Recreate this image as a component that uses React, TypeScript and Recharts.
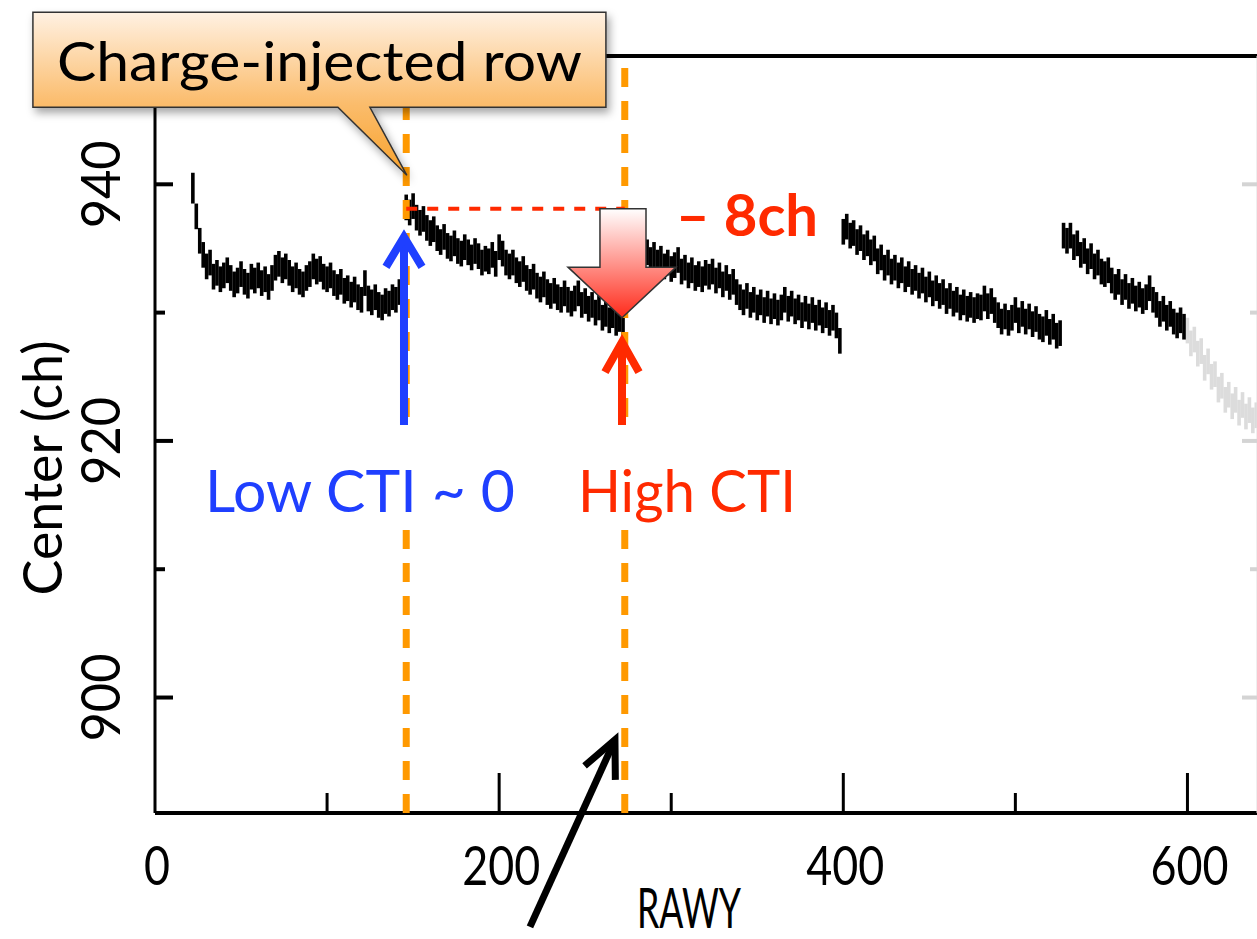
import React from 'react';
import {
  ComposedChart,
  Scatter,
  ErrorBar,
  XAxis,
  YAxis,
  ReferenceLine,
  ReferenceDot,
  ReferenceArea,
} from 'recharts';

// Line center per RAWY row (every other row), one block per charge-injection period
const rowStep = 2;
const centerErr = 1.0;
const firstRowErr = 1.2;

const block1Start = 22;
const block1 = [
  939.7, 937.5, 935.6, 934.5, 933.6, 933.9, 932.8, 933.1, 932.6, 932.9, 933.3, 932.7, 932.2, 932.5, 933.0, 932.4,
  932.1, 932.8, 932.5, 932.9, 932.3, 932.6, 932.0, 932.7, 933.5, 933.8, 933.3, 933.6, 933.1, 932.6, 932.9, 932.4,
  932.2, 932.7, 933.0, 933.6, 933.2, 933.4, 932.8, 932.6, 932.9, 932.3, 932.0, 932.4, 931.7, 931.9, 931.4, 931.8,
  931.2, 931.0, 932.3, 931.1, 930.8, 931.2, 930.6, 930.4, 930.9, 930.7, 931.2, 931.0, 931.6, 930.9,
];

const block2Start = 146;
const block2 = [
  938.2, 937.8, 938.3, 937.4, 937.0, 937.3, 936.6, 936.2, 936.5, 935.8, 935.5, 935.9, 935.2, 935.0, 935.4, 934.8,
  934.6, 935.1, 934.7, 934.3, 934.8, 934.4, 933.9, 934.2, 934.0, 934.5, 933.8, 935.1, 934.6, 933.9, 933.6, 933.9,
  933.3, 933.0, 933.4, 932.7, 932.4, 932.8, 932.1, 931.8, 932.2, 931.6, 931.3, 931.7, 931.2, 931.0, 931.5, 931.0,
  930.7, 931.1, 931.5, 930.6, 930.9, 930.3, 930.6, 930.0, 930.4, 929.6, 929.9, 929.4, 929.8, 929.2, 929.5, 929.1,
];

const block3Start = 274;
const block3 = [
  935.2, 934.8, 935.1, 934.6, 934.9, 934.4, 934.7, 934.1, 934.5, 933.9, 934.2, 933.6, 933.9, 933.4, 933.7, 934.1,
  933.2, 933.5, 932.9, 933.3, 932.7, 933.0, 932.6, 933.1, 932.8, 933.2, 932.5, 932.9, 932.2, 932.7, 932.0, 932.4,
  931.6, 931.2, 930.8, 931.3, 930.6, 931.0, 930.4, 930.8, 930.2, 930.7, 930.1, 930.5, 930.0, 930.4, 931.0, 930.3,
  930.7, 930.1, 930.4, 929.8, 930.3, 929.7, 930.2, 929.6, 930.0, 929.4, 929.8, 929.2, 929.6, 929.0, 927.8,
];

const block4Start = 400;
const block4 = [
  936.3, 936.7, 936.0, 936.2, 935.5, 935.8, 935.1, 935.4, 934.7, 935.0, 934.0, 934.3, 933.5, 933.9, 933.2, 933.5,
  932.9, 933.3, 932.6, 933.0, 932.4, 932.7, 932.1, 932.5, 931.8, 932.2, 931.5, 931.9, 931.3, 931.6, 930.9, 931.3,
  930.7, 931.0, 930.4, 930.8, 930.3, 930.6, 930.2, 930.5, 930.4, 931.1, 930.5, 930.9, 930.2, 929.8, 929.3, 929.7,
  929.2, 929.6, 930.2, 929.4, 929.9, 929.3, 929.7, 929.1, 929.5, 928.9, 928.7, 929.2, 928.5, 928.9, 928.2, 928.4,
];

const block5Start = 528;
const block5 = [
  936.0, 935.6, 936.0, 935.1, 935.4, 934.5, 934.8, 934.0, 934.4, 933.6, 933.9, 933.2, 933.0, 933.3, 932.5, 932.0,
  932.4, 931.6, 932.0, 931.3, 931.7, 931.1, 931.4, 930.9, 931.2, 931.9, 931.0, 930.6, 929.9, 930.3, 929.6, 929.9,
  929.3, 929.0, 929.4, 928.9,
];

// faded part beyond row 600
const fadedStart = 600;
const faded = [
  928.6, 927.6, 927.9, 926.8, 927.0, 925.7, 926.2, 925.0, 925.2, 924.0, 924.3, 923.2, 923.6, 922.7, 923.2, 922.2,
  922.8, 921.9, 922.4, 921.6, 922.0,
];

const injectedRows = [146, 273];
const dropFrom = 938.1;
const dropTo = 929.6;

const xTicks = [0, 100, 200, 300, 400, 500, 600];
const yTicks = [900, 910, 920, 930, 940];

const toPoints = (start: number, values: number[]) =>
  values.map((c, i) => ({
    rawy: start + i * rowStep,
    center: c,
    err: i === 0 && start === block1Start ? firstRowErr : centerErr,
  }));

const mainPoints = [
  ...toPoints(block1Start, block1),
  ...toPoints(block2Start, block2),
  ...toPoints(block3Start, block3),
  ...toPoints(block4Start, block4),
  ...toPoints(block5Start, block5),
];
const fadedPoints = toPoints(fadedStart, faded);

const FONT = 'Lato, "Noto Sans", sans-serif';
const CHART_W = 1280;
const CHART_H = 939;
const TOP = 56;
const X_AXIS_H = 126;
const PLOT_LEFT = 155;
const PLOT_RIGHT = 1258;
const PLOT_BOTTOM = CHART_H - X_AXIS_H;

const ORANGE = '#ff9900';
const RED = '#ff2a00';
const BLUE = '#1f3fff';

const XTick = (props: any) => {
  const { x, payload } = props;
  const v = payload.value as number;
  const major = v % 200 === 0;
  const s = String(v);
  return (
    <g>
      {v !== 0 && (
        <line x1={x} x2={x} y1={PLOT_BOTTOM} y2={PLOT_BOTTOM - (major ? 40 : 20)} stroke="#000" strokeWidth={3} />
      )}
      {major && (
        <text x={x + 2} y={885} textAnchor="middle" fontSize={55} fontFamily={FONT} fill="#000"
          textLength={26 * s.length} lengthAdjust="spacingAndGlyphs">
          {s}
        </text>
      )}
    </g>
  );
};

// left ticks with labels, plus the faded ticks of the right-hand frame
const YTick = (props: any) => {
  const { y, payload } = props;
  const v = payload.value as number;
  const major = v % 20 === 0;
  const s = String(v);
  return (
    <g>
      <line x1={PLOT_LEFT} x2={PLOT_LEFT + (major ? 18 : 10)} y1={y} y2={y} stroke="#000" strokeWidth={4} />
      <line x1={PLOT_RIGHT} x2={PLOT_RIGHT - (major ? 16 : 8)} y1={y} y2={y} stroke="#d4d4d4" strokeWidth={4} />
      {major && (
        <text x={120} y={y} transform={`rotate(-90, 120, ${y})`} textAnchor="middle" fontSize={55}
          fontFamily={FONT} fill="#000" textLength={88} lengthAdjust="spacingAndGlyphs">
          {s}
        </text>
      )}
    </g>
  );
};

const YTitle = () => {
  const cx = 62;
  const cy = 468;
  return (
    <text x={cx} y={cy} transform={`rotate(-90, ${cx}, ${cy})`} textAnchor="middle" fontSize={55}
      fontFamily={FONT} fill="#000" textLength={255} lengthAdjust="spacingAndGlyphs">
      Center (ch)
    </text>
  );
};

const XTitle = () => (
  <text x={689} y={928} textAnchor="middle" fontSize={56} fontFamily={FONT} fill="#000"
    textLength={104} lengthAdjust="spacingAndGlyphs">
    RAWY
  </text>
);

// speech-bubble callout, tip at the injected row
const Callout = ({ cx, cy }: any) => {
  const left = cx - 374;
  const right = cx + 199;
  const top = cy - 163;
  const bottom = cy - 68;
  const d = `M${left},${top} H${right} V${bottom} H${cx - 37} L${cx},${cy} L${cx - 69},${bottom} H${left} Z`;
  return (
    <g>
      <defs>
        <linearGradient id="calloutFill" x1="0" y1="0" x2="0" y2="1">
          <stop offset="0%" stopColor="#fff1e2" />
          <stop offset="55%" stopColor="#fbbd6e" />
          <stop offset="100%" stopColor="#f8a22c" />
        </linearGradient>
        <filter id="calloutShadow" x="-10%" y="-10%" width="120%" height="130%">
          <feDropShadow dx="3" dy="5" stdDeviation="4" floodColor="#000" floodOpacity="0.35" />
        </filter>
      </defs>
      <path d={d} fill="url(#calloutFill)" stroke="#333" strokeWidth={1.5} filter="url(#calloutShadow)" />
      <text x={(left + right) / 2} y={cy - 94} textAnchor="middle" fontSize={54} fontFamily={FONT} fill="#000"
        textLength={525} lengthAdjust="spacingAndGlyphs">
        Charge-injected row
      </text>
    </g>
  );
};

// big gradient arrow showing the drop, plus its label
const DropArrow = (props: any) => {
  const { x, y, width, height } = props;
  const sl = x + width * 0.296;
  const sr = x + width * 0.722;
  const hy = y + height * 0.536;
  const tipX = x + width * 0.5;
  const pts = [
    [sl, y], [sr, y], [sr, hy], [x + width, hy], [tipX, y + height], [x, hy], [sl, hy],
  ].map((p) => p.join(',')).join(' ');
  return (
    <g>
      <defs>
        <linearGradient id="dropFill" x1="0" y1="0" x2="0" y2="1">
          <stop offset="0%" stopColor="#ffffff" />
          <stop offset="100%" stopColor="#ff2a1a" />
        </linearGradient>
      </defs>
      <polygon points={pts} fill="url(#dropFill)" stroke="#333" strokeWidth={1.5} />
      <text x={x + width} y={y + 27} fontSize={58} fontWeight="bold" fontFamily={FONT} fill={RED}
        textLength={142} lengthAdjust="spacingAndGlyphs">
        – 8ch
      </text>
    </g>
  );
};

const chevron = (cx: number, cy: number, half: number, depth: number) =>
  `${cx - half},${cy + depth} ${cx},${cy} ${cx + half},${cy + depth}`;

const LowArrow = ({ cx, cy }: any) => (
  <g>
    <rect x={198} y={428} width={324} height={102} fill="#fff" />
    <line x1={cx} x2={cx} y1={cy + 3} y2={425} stroke={BLUE} strokeWidth={8} />
    <polyline points={chevron(cx, cy, 18, 30)} fill="none" stroke={BLUE} strokeWidth={8} />
    <text x={205} y={512} fontSize={58} fontFamily={FONT} fill={BLUE} textLength={310} lengthAdjust="spacingAndGlyphs">
      Low CTI ~ 0
    </text>
  </g>
);

const HighArrow = ({ cx, cy }: any) => (
  <g>
    <rect x={570} y={428} width={234} height={102} fill="#fff" />
    <line x1={cx} x2={cx} y1={cy + 3} y2={425} stroke={RED} strokeWidth={8} />
    <polyline points={chevron(cx, cy, 17, 30)} fill="none" stroke={RED} strokeWidth={8} />
    <text x={578} y={512} fontSize={58} fontFamily={FONT} fill={RED} textLength={218} lengthAdjust="spacingAndGlyphs">
      High CTI
    </text>
  </g>
);

const PointerArrow = ({ cx, cy }: any) => {
  const tailX = cx - 85;
  const tailY = cy + 187;
  const ang = Math.atan2(tailY - cy, tailX - cx);
  const wing = 40;
  const spread = (25 * Math.PI) / 180;
  const w1 = [cx + wing * Math.cos(ang + spread), cy + wing * Math.sin(ang + spread)];
  const w2 = [cx + wing * Math.cos(ang - spread), cy + wing * Math.sin(ang - spread)];
  return (
    <g>
      <line x1={tailX} y1={tailY} x2={cx} y2={cy} stroke="#000" strokeWidth={7} />
      <polyline points={`${w1[0]},${w1[1]} ${cx},${cy} ${w2[0]},${w2[1]}`} fill="none" stroke="#000" strokeWidth={7} />
    </g>
  );
};

const NoDot = () => <g />;

export default function App() {
  return (
    <div style={{ position: 'absolute', left: 0, top: 0, width: 1257, height: 939, overflow: 'hidden', background: '#fff' }}>
      <ComposedChart width={CHART_W} height={CHART_H} margin={{ top: TOP, right: CHART_W - PLOT_RIGHT, bottom: 0, left: 0 }}>
        <XAxis dataKey="rawy" type="number" domain={[0, 641]} ticks={xTicks} interval={0} allowDataOverflow
          height={X_AXIS_H} tick={<XTick />} tickLine={false} axisLine={{ stroke: '#000', strokeWidth: 4 }}
          label={<XTitle />} />
        <YAxis type="number" domain={[891, 950]} ticks={yTicks} interval={0} allowDataOverflow width={PLOT_LEFT}
          tick={<YTick />} tickLine={false} axisLine={{ stroke: '#000', strokeWidth: 3 }} label={<YTitle />} />

        <ReferenceLine y={950} stroke="#000" strokeWidth={4} zIndex={500} />
        <ReferenceLine x={641} stroke="#e0e0e0" strokeWidth={3} zIndex={500} />

        <Scatter data={fadedPoints} dataKey="center" shape={<NoDot />} isAnimationActive={false}>
          <ErrorBar dataKey="err" direction="y" width={0} stroke="#dcdcdc" strokeWidth={3.6} isAnimationActive={false} />
        </Scatter>
        <Scatter data={mainPoints} dataKey="center" shape={<NoDot />} isAnimationActive={false}>
          <ErrorBar dataKey="err" direction="y" width={0} stroke="#000" strokeWidth={3.6} isAnimationActive={false} />
        </Scatter>

        {injectedRows.map((r) => (
          <ReferenceLine key={r} x={r} stroke={ORANGE} strokeWidth={7} strokeDasharray="19 14" zIndex={1400} />
        ))}
        <ReferenceLine
          segment={[{ x: injectedRows[0], y: dropFrom }, { x: injectedRows[1], y: dropFrom }]}
          stroke={RED} strokeWidth={4} strokeDasharray="11 10" zIndex={1450} />

        <ReferenceArea x1={240} x2={302.8} y1={dropTo} y2={dropFrom} shape={<DropArrow />} ifOverflow="visible"
          zIndex={1500} />
        <ReferenceDot x={144.7} y={935.9} shape={<LowArrow />} ifOverflow="visible" zIndex={1600} />
        <ReferenceDot x={271.4} y={927.7} shape={<HighArrow />} ifOverflow="visible" zIndex={1600} />
        <ReferenceDot x={267.3} y={896.7} shape={<PointerArrow />} ifOverflow="visible" zIndex={1600} />
        <ReferenceDot x={146.4} y={940.7} shape={<Callout />} ifOverflow="visible" zIndex={1700} />
      </ComposedChart>
    </div>
  );
}
